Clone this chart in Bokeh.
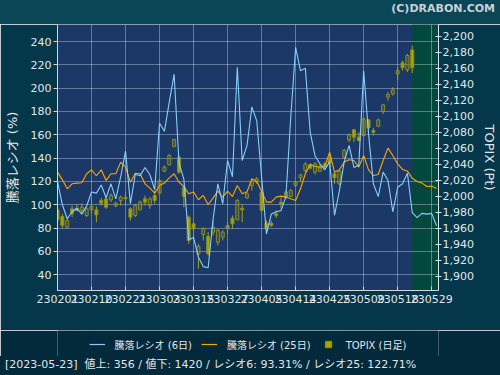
from bokeh.plotting import figure
from bokeh.layouts import column
from bokeh.models import (Range1d, LinearAxis, FixedTicker, NumeralTickFormatter,
                          BoxAnnotation, ColumnDataSource, Legend, LegendItem, Div)
from bokeh.core.properties import value
from bokeh.embed import file_html
from bokeh.resources import INLINE

# ---------------- data ----------------
dates = ["230201", "230202", "230203", "230206", "230207", "230208", "230209", "230210",
         "230213", "230214", "230215", "230216", "230217", "230220", "230221", "230222",
         "230224", "230227", "230228", "230301", "230302", "230303", "230306", "230307",
         "230309", "230310", "230313", "230314", "230315", "230316", "230317", "230320",
         "230322", "230323", "230324", "230327", "230328", "230329", "230330", "230331",
         "230403", "230404", "230405", "230406", "230407", "230410", "230411", "230412",
         "230413", "230414", "230417", "230418", "230419", "230420", "230421", "230424",
         "230425", "230426", "230427", "230428", "230501", "230502", "230508", "230509",
         "230510", "230511", "230512", "230515", "230516", "230517", "230518", "230519",
         "230522", "230523", "230524", "230525", "230526", "230529", "230530"]

ratio6 = [120, 100, 88, 94, 97, 92, 99, 111, 110, 117, 106, 118, 105, 124, 146, 101,
          126, 125, 132, 126, 113, 170, 163, 188, 212, 136, 122, 70, 72, 55, 47, 46,
          87, 118, 101, 138, 124, 218, 138, 151, 184, 172, 124, 75, 92, 94, 95, 107,
          175, 235, 215, 217, 162, 142, 135, 130, 137, 91, 112, 137, 151, 132, 134, 215,
          161, 118, 107, 128, 121, 94, 115, 118, 127, 93.31, 89, 92.6, 92, 92.6, 82]

ratio25 = [128, 121.4, 113.7, 118, 118.6, 118.9, 126.6, 130, 124.9, 130, 120.9, 126.6,
           126.6, 136.6, 132.3, 119.4, 127.1, 126.6, 118, 114.3, 110, 116.6, 118.6, 123.1,
           126.6, 119.4, 115.7, 109.4, 110.9, 104.3, 108, 100, 105.7, 111.7, 106.6, 111.7,
           107, 116.6, 109.4, 111.1, 122.3, 120, 111.7, 102.3, 102.3, 106.6, 107.4, 106.6,
           105.1, 103.7, 113.7, 126.6, 134.6, 132.9, 132.3, 132.9, 145.1, 128, 130, 136.6,
           138.6, 138, 132.3, 142.3, 130, 125.1, 126, 138, 148.6, 142.3, 135.1, 130.3,
           128.9, 122.71, 120, 118.6, 115.7, 116, 114]

topix_open = [1983.2, 1974.9, 1961.6, 1984.5, 1985.3, 1982.4, 1976.1, 1983.2, 1983.2, 1994.9,
              1996.9, 1995.7, 1988.2, 1994.9, 1999.0, 1984.5, 1976.1, 1983.2, 1996.9, 1988.6,
              2001.1, 2004.0, 2031.5, 2039.4, 2062.3, 2049.0, 2011.5, 1974.1, 1965.7, 1928.3,
              1952.4, 1949.9, 1955.3, 1942.8, 1949.1, 1963.7, 1972.8, 1970.7, 1985.3, 1998.2,
              2013.6, 2017.7, 2005.3, 1966.6, 1966.6, 1978.2, 1992.8, 1999.0, 1999.9, 2013.6,
              2023.2, 2032.3, 2039.4, 2030.2, 2031.5, 2040.6, 2049.0, 2028.2, 2015.7, 2049.0,
              2070.6, 2083.1, 2073.9, 2076.0, 2095.6, 2082.2, 2087.7, 2106.4, 2123.9, 2128.0,
              2153.0, 2166.7, 2158.0, 2182.9]
topix_high = [1986.5, 1978.2, 1974.1, 1988.6, 1990.7, 1991.5, 1986.5, 1999.0, 1987.4, 1998.2,
              1999.0, 2004.0, 1993.6, 2001.1, 2005.3, 1986.5, 1990.7, 1994.9, 2001.1, 1999.0,
              2007.3, 2021.9, 2038.6, 2053.1, 2071.9, 2051.0, 2013.6, 1976.1, 1967.8, 1940.8,
              1961.6, 1955.3, 1969.9, 1959.5, 1957.4, 1967.8, 1976.1, 1996.9, 1990.7, 2005.3,
              2020.7, 2024.0, 2007.3, 1969.9, 1969.9, 1982.4, 1999.0, 2007.3, 2009.4, 2019.8,
              2028.2, 2042.7, 2041.5, 2042.7, 2039.8, 2042.7, 2053.1, 2030.2, 2033.1, 2059.4,
              2078.9, 2084.3, 2080.2, 2098.1, 2096.4, 2085.6, 2096.8, 2115.5, 2130.1, 2136.3,
              2161.3, 2169.6, 2177.9, 2188.3]
topix_low = [1969.9, 1959.5, 1959.5, 1974.1, 1981.1, 1978.2, 1974.1, 1978.2, 1967.8, 1988.6,
             1984.5, 1992.8, 1986.5, 1988.6, 1988.6, 1969.9, 1974.1, 1982.4, 1988.6, 1984.5,
             1990.7, 2003.2, 2030.2, 2038.6, 2061.4, 2028.2, 1986.5, 1940.8, 1949.1, 1909.6,
             1944.9, 1926.2, 1951.2, 1938.7, 1944.9, 1953.3, 1959.5, 1969.9, 1967.8, 1996.9,
             2007.3, 2015.7, 1980.3, 1957.4, 1961.6, 1973.2, 1984.5, 1996.9, 1999.0, 2011.5,
             2017.7, 2030.2, 2033.6, 2027.3, 2030.2, 2034.4, 2036.5, 2015.7, 2013.6, 2046.9,
             2067.7, 2067.7, 2068.9, 2074.8, 2082.2, 2076.0, 2086.4, 2103.0, 2119.7, 2125.9,
             2145.5, 2157.1, 2155.1, 2153.8]
topix_close = [1970.7, 1963.7, 1969.9, 1978.2, 1982.4, 1986.5, 1984.5, 1987.4, 1976.9, 1991.5,
               1986.5, 2001.1, 1991.5, 1999.0, 1996.9, 1974.1, 1988.6, 1992.8, 1992.8, 1996.9,
               1994.9, 2019.8, 2036.5, 2051.0, 2071.0, 2030.2, 1999.9, 1944.9, 1959.5, 1937.4,
               1959.5, 1928.3, 1961.6, 1957.4, 1955.3, 1960.7, 1965.7, 1994.9, 1983.2, 2003.2,
               2019.0, 2021.9, 1982.4, 1959.5, 1963.7, 1976.1, 1989.9, 2005.3, 2007.3, 2017.7,
               2026.9, 2040.6, 2035.2, 2040.6, 2035.2, 2036.5, 2041.5, 2023.2, 2031.5, 2057.3,
               2076.8, 2073.9, 2069.8, 2096.8, 2085.6, 2080.2, 2095.6, 2114.3, 2127.2, 2133.0,
               2157.1, 2160.5, 2175.9, 2160.5]

tick_every = 7
left_ticks = [40, 60, 80, 100, 120, 140, 160, 180, 200, 220, 240]
right_ticks = [1900, 1920, 1940, 1960, 1980, 2000, 2020, 2040, 2060, 2080, 2100,
               2120, 2140, 2160, 2180, 2200]
footer_date = "2023-05-23"
advances = 356
declines = 1420
series_names = ["騰落レシオ (6日)", "騰落レシオ (25日)", "TOPIX (日足)"]
copyright_text = "(C)DRABON.COM"

# ---------------- styling ----------------
FONT = "DejaVu Sans, Noto Sans CJK JP"
BG_TOP = "#0a4656"
BG_MID = "#05374a"
BG_BOT = "#032a3b"
PLOT_BG = "#1b3867"
GREEN = "#03483c"
TXT = "#e2e6ea"
CYAN = "#87cefa"
ORANGE = "#ffa500"
OLIVE = "#a3a314"
OLIVE_LINE = "#8e8e14"

W = 500
H_TOP, H_MAIN, H_LEG, H_FOOT = 24, 306, 26, 19
FL, FR = 57, 438          # frame left / right in pixels
FRAME_H = 266             # frame height in pixels

n_c = len(topix_open)
last_idx = dates.index(footer_date.replace("-", "")[2:])
tick_idx = list(range(0, len(dates), tick_every))

# ---------------- header ----------------
header = Div(text=('<div style="box-sizing:border-box;width:%dpx;height:%dpx;'
                   'background:%s;text-align:right;padding:1px 5px 0 0;'
                   'font:bold 11px DejaVu Sans, sans-serif;line-height:13px;color:#c9d1d8;">'
                   '%s</div>' % (W, H_TOP, BG_TOP, copyright_text)),
             width=W, height=H_TOP, margin=0,
             styles={"background-color": BG_TOP, "overflow": "hidden"})

# ---------------- main chart ----------------
p = figure(width=W, height=H_MAIN, output_backend="svg", toolbar_location=None,
           x_range=Range1d(0, 78.4), y_range=Range1d(26.5, 254.6),
           min_border_left=FL, min_border_right=W - FR, min_border_top=0,
           min_border_bottom=H_MAIN - FRAME_H, margin=0)
p.extra_y_ranges = {"topix": Range1d(1882.5, 2214.6)}
p.background_fill_color = PLOT_BG
p.border_fill_color = BG_MID
p.outline_line_color = None

p.xgrid.ticker = FixedTicker(ticks=tick_idx)
p.ygrid.ticker = FixedTicker(ticks=left_ticks)
for g in (p.xgrid, p.ygrid):
    g.grid_line_color = "#ffffff"
    g.grid_line_alpha = 0.33
    g.grid_line_width = 1

xa = p.xaxis[0]
xa.ticker = FixedTicker(ticks=tick_idx)
xa.major_label_overrides = {i: dates[i] for i in tick_idx}
xa.axis_line_color = "#cfd6de"
xa.major_tick_line_color = "#cfd6de"
xa.major_tick_in = 4
xa.major_tick_out = 0
xa.minor_tick_line_color = None
xa.major_label_text_color = TXT
xa.major_label_text_font = FONT
xa.major_label_text_font_size = "11px"
xa.major_label_standoff = 4

ya = p.yaxis[0]
ya.ticker = FixedTicker(ticks=left_ticks)
ya.axis_label = "騰落レシオ (%)"
ya.axis_label_text_font = FONT
ya.axis_label_text_font_size = "13px"
ya.axis_label_text_font_style = "normal"
ya.axis_label_text_color = TXT
ya.axis_label_standoff = 8
ya.axis_line_color = "#cfd6de"
ya.major_tick_line_color = "#cfd6de"
ya.major_tick_in = 0
ya.major_tick_out = 4
ya.minor_tick_line_color = None
ya.major_label_text_color = TXT
ya.major_label_text_font = FONT
ya.major_label_text_font_size = "11px"
ya.major_label_standoff = 2

ra = LinearAxis(y_range_name="topix", ticker=FixedTicker(ticks=right_ticks),
                formatter=NumeralTickFormatter(format="0,0"))
ra.axis_label = "TOPIX (Pt)"
ra.axis_label_text_font = FONT
ra.axis_label_text_font_size = "13px"
ra.axis_label_text_font_style = "normal"
ra.axis_label_text_color = TXT
ra.axis_label_standoff = 5
ra.axis_line_color = "#e0e6ec"
ra.major_tick_line_color = "#e0e6ec"
ra.major_tick_in = 3
ra.major_tick_out = 3
ra.minor_tick_line_color = None
ra.major_label_text_color = TXT
ra.major_label_text_font = FONT
ra.major_label_text_font_size = "11px"
ra.major_label_standoff = 1
p.add_layout(ra, "right")

# latest-date region
p.add_layout(BoxAnnotation(left=last_idx, fill_color=GREEN, fill_alpha=1.0,
                           line_color=None, level="image"))

# candles
up_x, up_top, up_bot, up_hi, up_lo = [], [], [], [], []
dn_x, dn_top, dn_bot, dn_hi, dn_lo = [], [], [], [], []
for i in range(n_c):
    o, h, l, c = topix_open[i], topix_high[i], topix_low[i], topix_close[i]
    if c >= o:
        up_x.append(i); up_top.append(c); up_bot.append(o); up_hi.append(h); up_lo.append(l)
    else:
        dn_x.append(i); dn_top.append(o); dn_bot.append(c); dn_hi.append(h); dn_lo.append(l)
src_up = ColumnDataSource(dict(x=up_x, top=up_top, bottom=up_bot, high=up_hi, low=up_lo))
src_dn = ColumnDataSource(dict(x=dn_x, top=dn_top, bottom=dn_bot, high=dn_hi, low=dn_lo))
for src in (src_up, src_dn):
    p.segment(x0="x", y0="high", x1="x", y1="top", source=src, y_range_name="topix",
              line_color=OLIVE, line_width=1)
    p.segment(x0="x", y0="bottom", x1="x", y1="low", source=src, y_range_name="topix",
              line_color=OLIVE, line_width=1)
p.vbar(x="x", width=0.62, top="top", bottom="bottom", source=src_up, y_range_name="topix",
       fill_color=OLIVE, fill_alpha=0.22, line_color=OLIVE_LINE, line_width=1)
p.vbar(x="x", width=0.62, top="top", bottom="bottom", source=src_dn, y_range_name="topix",
       fill_color=OLIVE, fill_alpha=1.0, line_color=OLIVE_LINE, line_width=1)

p.line(x=list(range(len(ratio25))), y=ratio25, line_color=ORANGE, line_width=1.1)
p.line(x=list(range(len(ratio6))), y=ratio6, line_color=CYAN, line_width=1.1)

# ---------------- legend strip ----------------
leg = figure(width=W, height=H_LEG, output_backend="svg", toolbar_location=None,
             x_axis_type=None, y_axis_type=None, margin=0,
             min_border_left=0, min_border_right=0, min_border_top=0, min_border_bottom=0)
leg.background_fill_color = BG_BOT
leg.border_fill_color = BG_BOT
leg.outline_line_color = None
# hidden renderers of the same series, used only for the legend icons
l6 = leg.line(x=list(range(len(ratio6))), y=ratio6, line_color=CYAN, line_width=1.2,
              visible=False)
l25 = leg.line(x=list(range(len(ratio25))), y=ratio25, line_color=ORANGE, line_width=1.2,
               visible=False)
kb = leg.scatter(x=dn_x, y=dn_top, marker="square", size=10, fill_color=OLIVE,
                 line_color=OLIVE_LINE, visible=False)
legend = Legend(items=[LegendItem(label=value(series_names[0]), renderers=[l6]),
                       LegendItem(label=value(series_names[1]), renderers=[l25]),
                       LegendItem(label=value(series_names[2]), renderers=[kb])],
                orientation="horizontal", location="top_center",
                background_fill_alpha=0, border_line_alpha=0,
                inactive_fill_alpha=0,
                label_text_color=TXT, label_text_font=FONT, label_text_font_size="10px",
                glyph_width=16, glyph_height=18, spacing=9, label_standoff=10,
                padding=0, margin=5)
leg.add_layout(legend)

# ---------------- footer ----------------
footer = "[%s]&nbsp; 値上: %d / 値下: %d / レシオ6: %.2f%% / レシオ25: %.2f%%" % (
    footer_date, advances, declines, ratio6[last_idx], ratio25[last_idx])
foot = Div(text=('<div style="padding-left:5px;white-space:nowrap;'
                 'font:11px DejaVu Sans, Noto Sans CJK JP, sans-serif;line-height:14px;'
                 'color:%s;">%s</div>' % (TXT, footer)),
           width=W, height=H_FOOT, margin=0,
           styles={"background-color": BG_BOT, "overflow": "hidden"})

layout = column(header, p, leg, foot, spacing=0)
open("out.html", "w").write(file_html(layout, INLINE))
